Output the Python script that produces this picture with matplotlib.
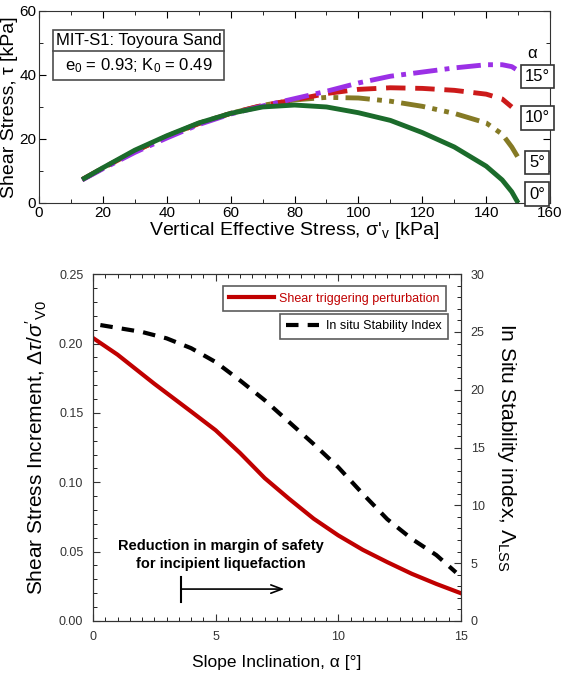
import numpy as np
import matplotlib.pyplot as plt
from matplotlib.patches import Rectangle
from matplotlib.ticker import MultipleLocator

plt.rcParams['font.family'] = ['Liberation Sans', 'DejaVu Sans']
plt.rcParams['mathtext.fontset'] = 'custom'
plt.rcParams['mathtext.rm'] = 'Liberation Sans'
plt.rcParams['mathtext.it'] = 'Liberation Sans:italic'

# --- верхний график: траектории напряжений
sv_0 = [13.5, 20, 30, 40, 50, 60, 70, 80, 90, 100, 110, 120, 130, 140, 145, 148, 150]
tau_0 = [7.3, 11, 16.5, 21, 25, 28, 30, 30.6, 30, 28.2, 25.8, 22, 17.5, 11.5, 7.2, 3.5, 0]
sv_5 = [13.5, 20, 30, 40, 50, 60, 70, 80, 90, 100, 110, 120, 130, 140, 145, 148, 149.8]
tau_5 = [7.3, 10.9, 16.2, 20.8, 24.9, 28, 30.5, 32.2, 33, 32.8, 31.8, 30.2, 28, 25, 21.5, 17.5, 14.5]
sv_10 = [13.5, 20, 30, 40, 50, 60, 70, 80, 90, 100, 110, 120, 130, 140, 145, 148]
tau_10 = [7.3, 10.9, 16.2, 20.8, 24.8, 28, 30.5, 32.2, 34.2, 35.5, 36, 35.8, 35.2, 34, 32.5, 30]
sv_15 = [13.5, 20, 30, 40, 50, 60, 70, 80, 90, 100, 110, 120, 130, 140, 145, 148, 149.3]
tau_15 = [7.2, 10.7, 15.8, 20.3, 24.5, 27.8, 30.3, 32.6, 34.9, 37.5, 39.6, 40.9, 42.2, 43.2, 43.2, 42.6, 41.8]

# --- нижний график
alpha_r = [0, 1, 2.5, 4, 5, 6, 7, 8, 9, 10, 11, 12, 13, 14, 15]
dtau = [0.204, 0.192, 0.171, 0.151, 0.1375, 0.121, 0.103, 0.088, 0.0737, 0.0617,
        0.0513, 0.0424, 0.034, 0.0267, 0.020]
alpha_b = [0.3, 2, 3, 4, 5, 6, 7, 8, 9, 10, 11, 12, 13, 14, 14.8]
lss = [25.6, 25.0, 24.45, 23.6, 22.4, 20.8, 19.1, 17.2, 15.3, 13.3, 11.0, 8.8, 7.1, 5.7, 4.2]

fig = plt.figure(figsize=(5.66, 6.8), dpi=100)
ax1 = fig.add_axes([0.0689, 0.7015, 0.903, 0.2824])
ax2 = fig.add_axes([0.1643, 0.0868, 0.650, 0.510])

ax1.plot(sv_0, tau_0, color='#1b6b2b', lw=3.5, solid_capstyle='butt', zorder=3)
ax1.plot(sv_5, tau_5, color='#857a25', lw=3.5, dashes=(5, 1.5, 1, 1.5, 1, 1.5))
ax1.plot(sv_10, tau_10, color='#cc1a1a', lw=3.5, dashes=(4, 2))
ax1.plot(sv_15, tau_15, color='#9b30e6', lw=3.5, dashes=(5, 1.5, 1, 1.5))

ax1.set_xlim(0, 160)
ax1.set_ylim(0, 60)
ax1.xaxis.set_major_locator(MultipleLocator(20))
ax1.xaxis.set_minor_locator(MultipleLocator(10))
ax1.yaxis.set_major_locator(MultipleLocator(20))
ax1.yaxis.set_minor_locator(MultipleLocator(10))
ax1.set_xlabel("Vertical Effective Stress, σ'$_{\\rm v}$ [kPa]", fontsize=14, labelpad=0)
ax1.set_ylabel("Shear Stress, τ [kPa]", fontsize=14, labelpad=1)

# рамка с описанием образца
ax1.add_patch(Rectangle((4.5, 38.5), 53.5, 15.6, fill=False, lw=1.2, ec='0.3', zorder=4))
ax1.plot([4.5, 58], [47.4, 47.4], color='0.3', lw=1.2, zorder=4)
ax1.text(31.2, 50.8, "MIT-S1: Toyoura Sand", ha='center', va='center', fontsize=12)
ax1.text(31.2, 43.0, "e$_{\\rm 0}$ = 0.93; K$_{\\rm 0}$ = 0.49", ha='center', va='center', fontsize=12)

box = dict(boxstyle='square,pad=0.25', fc='white', ec='0.2', lw=1.2)
for lbl, y in [("15°", 39.6), ("10°", 26.6), ("5°", 12.6), ("0°", 2.8)]:
    ax1.text(156.0, y, lbl, ha='center', va='center', fontsize=12, bbox=box, zorder=5)
ax1.text(154.5, 46.8, "α", ha='center', va='center', fontsize=12)

ax2.plot(alpha_r, dtau, color='#c00000', lw=3, label='Shear triggering perturbation')
ax2r = ax2.twinx()
ax2r.plot(alpha_b, lss, color='black', lw=3, dashes=(3, 2.2), label='In situ Stability Index')

ax2.set_xlim(0, 15)
ax2.set_ylim(0, 0.25)
ax2r.set_ylim(0, 30)
ax2.xaxis.set_major_locator(MultipleLocator(5))
ax2.xaxis.set_minor_locator(MultipleLocator(0.5))
ax2.yaxis.set_major_locator(MultipleLocator(0.05))
ax2.yaxis.set_minor_locator(MultipleLocator(0.01))
ax2r.yaxis.set_major_locator(MultipleLocator(5))
ax2r.yaxis.set_minor_locator(MultipleLocator(1))
ax2.yaxis.set_major_formatter(plt.FormatStrFormatter('%.2f'))
ax2.set_xlabel("Slope Inclination, α [°]", fontsize=12.5, labelpad=9)
ax2.set_ylabel("Shear Stress Increment, Δ$\\it{τ/σ'}_{\\rm V0}$", fontsize=15, labelpad=7)
ax2r.set_ylabel("In Situ Stability index, Λ$_{\\rm LSS}$", fontsize=15, rotation=-90, labelpad=24)

leg1 = ax2.legend(loc='upper right', bbox_to_anchor=(0.96, 0.965), fontsize=9,
                  frameon=True, fancybox=False, edgecolor='0.2', handlelength=3.6,
                  borderpad=0.5, borderaxespad=0, handletextpad=0.4)
for t in leg1.get_texts():
    t.set_color('#c00000')
leg1.get_frame().set_linewidth(1.2)
leg2 = ax2r.legend(loc='upper right', bbox_to_anchor=(0.965, 0.885), fontsize=9,
                   frameon=True, fancybox=False, edgecolor='0.2', handlelength=2.6,
                   borderpad=0.5, borderaxespad=0, handletextpad=0.6)
leg2.get_frame().set_linewidth(1.2)

ax2.text(5.2, 0.0475, "Reduction in margin of safety\nfor incipient liquefaction",
         ha='center', va='center', fontsize=10.5, fontweight='bold', linespacing=1.3)
ax2.annotate("", xy=(7.8, 0.023), xytext=(3.6, 0.023),
             arrowprops=dict(arrowstyle='->,head_length=0.8,head_width=0.3', color='black',
                             lw=1.2, shrinkA=0, shrinkB=0))
ax2.plot([3.6, 3.6], [0.014, 0.032], color='black', lw=1.5)

for ax in (ax1, ax2):
    ax.tick_params(which='both', direction='in', top=True, right=(ax is ax1))
    ax.tick_params(which='major', length=5)
    ax.tick_params(which='minor', length=3)
ax2r.tick_params(which='both', direction='in')
ax2r.tick_params(which='major', length=5)
ax2r.tick_params(which='minor', length=3)
ax1.tick_params(labelsize=11, pad=2)
ax2.tick_params(labelsize=9, pad=7, colors='0.2')
ax2r.tick_params(labelsize=9, pad=7, colors='0.2')
for a in (ax1, ax2, ax2r):
    for s in a.spines.values():
        s.set_color('0.2')

fig.savefig('out.png', dpi=100)
